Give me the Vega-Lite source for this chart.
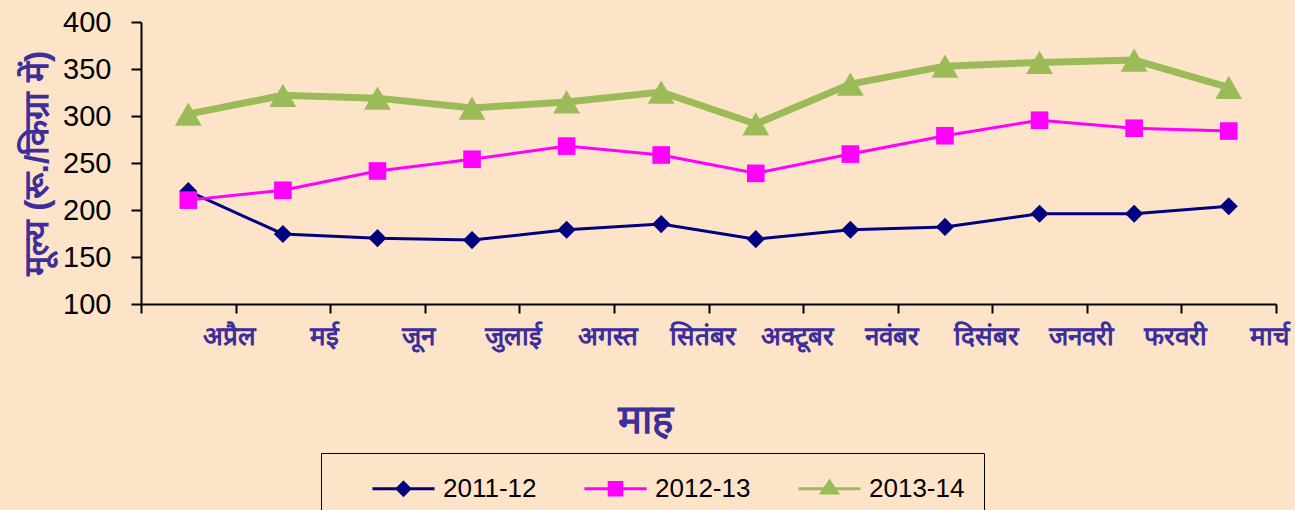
{
  "$schema": "https://vega.github.io/schema/vega-lite/v6.json",
  "width": 1135,
  "height": 282,
  "autosize": "none",
  "padding": {"left": 141, "top": 22, "right": 19, "bottom": 206},
  "background": "#FDE4C9",
  "config": {"view": {"stroke": null}, "font": "Liberation Sans"},
  "data": {"values": [
    {"month": "अप्रैल", "series": "2011-12", "value": 220},
    {"month": "मई", "series": "2011-12", "value": 174.5},
    {"month": "जून", "series": "2011-12", "value": 170},
    {"month": "जुलाई", "series": "2011-12", "value": 168},
    {"month": "अगस्त", "series": "2011-12", "value": 179},
    {"month": "सितंबर", "series": "2011-12", "value": 185},
    {"month": "अक्टूबर", "series": "2011-12", "value": 169},
    {"month": "नवंबर", "series": "2011-12", "value": 179},
    {"month": "दिसंबर", "series": "2011-12", "value": 182},
    {"month": "जनवरी", "series": "2011-12", "value": 196},
    {"month": "फरवरी", "series": "2011-12", "value": 196},
    {"month": "मार्च", "series": "2011-12", "value": 204},
    {"month": "अप्रैल", "series": "2012-13", "value": 210.5},
    {"month": "मई", "series": "2012-13", "value": 221},
    {"month": "जून", "series": "2012-13", "value": 241.5},
    {"month": "जुलाई", "series": "2012-13", "value": 254},
    {"month": "अगस्त", "series": "2012-13", "value": 268},
    {"month": "सितंबर", "series": "2012-13", "value": 258.5},
    {"month": "अक्टूबर", "series": "2012-13", "value": 239},
    {"month": "नवंबर", "series": "2012-13", "value": 259.5},
    {"month": "दिसंबर", "series": "2012-13", "value": 279},
    {"month": "जनवरी", "series": "2012-13", "value": 295.5},
    {"month": "फरवरी", "series": "2012-13", "value": 287},
    {"month": "मार्च", "series": "2012-13", "value": 284},
    {"month": "अप्रैल", "series": "2013-14", "value": 302},
    {"month": "मई", "series": "2013-14", "value": 322},
    {"month": "जून", "series": "2013-14", "value": 319},
    {"month": "जुलाई", "series": "2013-14", "value": 308.5},
    {"month": "अगस्त", "series": "2013-14", "value": 315},
    {"month": "सितंबर", "series": "2013-14", "value": 325.5},
    {"month": "अक्टूबर", "series": "2013-14", "value": 291.5},
    {"month": "नवंबर", "series": "2013-14", "value": 334},
    {"month": "दिसंबर", "series": "2013-14", "value": 353},
    {"month": "जनवरी", "series": "2013-14", "value": 357},
    {"month": "फरवरी", "series": "2013-14", "value": 359.5},
    {"month": "मार्च", "series": "2013-14", "value": 330.5}
  ]},
  "encoding": {
    "x": {
      "field": "month", "type": "nominal",
      "sort": ["अप्रैल", "मई", "जून", "जुलाई", "अगस्त", "सितंबर", "अक्टूबर", "नवंबर", "दिसंबर", "जनवरी", "फरवरी", "मार्च"],
      "scale": {"type": "band", "paddingInner": 0, "paddingOuter": 0},
      "axis": {
        "title": "माह", "titleFontSize": 40, "titleFontWeight": "bold", "titleColor": "#3D2F9B",
        "titleX": 504, "titleY": 96, "titleAnchor": "middle", "titleAlign": "center", "titleBaseline": "top",
        "labelAngle": 0, "labelFontSize": 26, "labelFontWeight": "bold", "labelColor": "#3D2F9B", "labelPadding": 10,
        "labelOffset": 41, "tickBand": "extent", "tickSize": 9, "tickColor": "#000000", "tickWidth": 2,
        "domainColor": "#000000", "domainWidth": 2, "grid": false
      }
    },
    "y": {
      "field": "value", "type": "quantitative",
      "scale": {"domain": [100, 400], "nice": false, "zero": false},
      "axis": {
        "title": "मूल्य (रू./किग्रा में)", "titleFontSize": 34, "titleFontWeight": "bold", "titleColor": "#3D2F9B", "titlePadding": 8,
        "values": [100, 150, 200, 250, 300, 350, 400],
        "labelFontSize": 29, "labelColor": "#000000", "labelPadding": 20, "labelFontWeight": "normal",
        "tickSize": 10, "tickColor": "#000000", "tickWidth": 2,
        "domainColor": "#000000", "domainWidth": 2, "grid": false
      }
    },
    "color": {
      "field": "series", "type": "nominal",
      "scale": {"domain": ["2011-12", "2012-13", "2013-14"], "range": ["#000080", "#FF00FF", "#9BBB59"]},
      "legend": {
        "title": null, "orient": "none", "legendX": 180, "legendY": 431, "direction": "horizontal",
        "strokeColor": "#000000", "padding": 19, "symbolOffset": 47, "symbolSize": 900, "symbolStrokeWidth": 3,
        "labelFontSize": 26, "labelColor": "#000000", "labelOffset": 23, "columnPadding": 15
      }
    }
  },
  "layer": [
    {
      "transform": [{"filter": {"field": "series", "oneOf": ["2011-12", "2012-13"]}}],
      "mark": {"type": "line", "strokeWidth": 3},
      "encoding": {
        "shape": {
          "field": "series", "type": "nominal",
          "scale": {"domain": ["2011-12", "2012-13", "2013-14"], "range": ["M-2.07,0H2.07M0,-0.42L0.42,0L0,0.42L-0.42,0Z", "M-2.07,0H2.07M-0.42,-0.42H0.42V0.42H-0.42Z", "M-2.07,0H2.07M0,-0.5L0.52,0.28H-0.52Z"]},
          "legend": {
            "title": null, "orient": "none", "legendX": 180, "legendY": 431, "direction": "horizontal",
            "strokeColor": "#000000", "padding": 19, "symbolOffset": 47, "symbolSize": 900, "symbolStrokeWidth": 3,
            "labelFontSize": 26, "labelColor": "#000000", "labelOffset": 23, "columnPadding": 15
          }
        }
      }
    },
    {
      "transform": [{"filter": {"field": "series", "equal": "2013-14"}}],
      "mark": {"type": "line", "strokeWidth": 7}
    },
    {
      "transform": [{"filter": {"field": "series", "equal": "2011-12"}}],
      "mark": {"type": "point", "filled": true, "opacity": 1, "shape": "diamond", "size": 330}
    },
    {
      "transform": [{"filter": {"field": "series", "equal": "2012-13"}}],
      "mark": {"type": "point", "filled": true, "opacity": 1, "shape": "square", "size": 310}
    },
    {
      "transform": [{"filter": {"field": "series", "equal": "2013-14"}}],
      "mark": {"type": "point", "filled": true, "opacity": 1, "shape": "triangle-up", "size": 720}
    }
  ]
}
